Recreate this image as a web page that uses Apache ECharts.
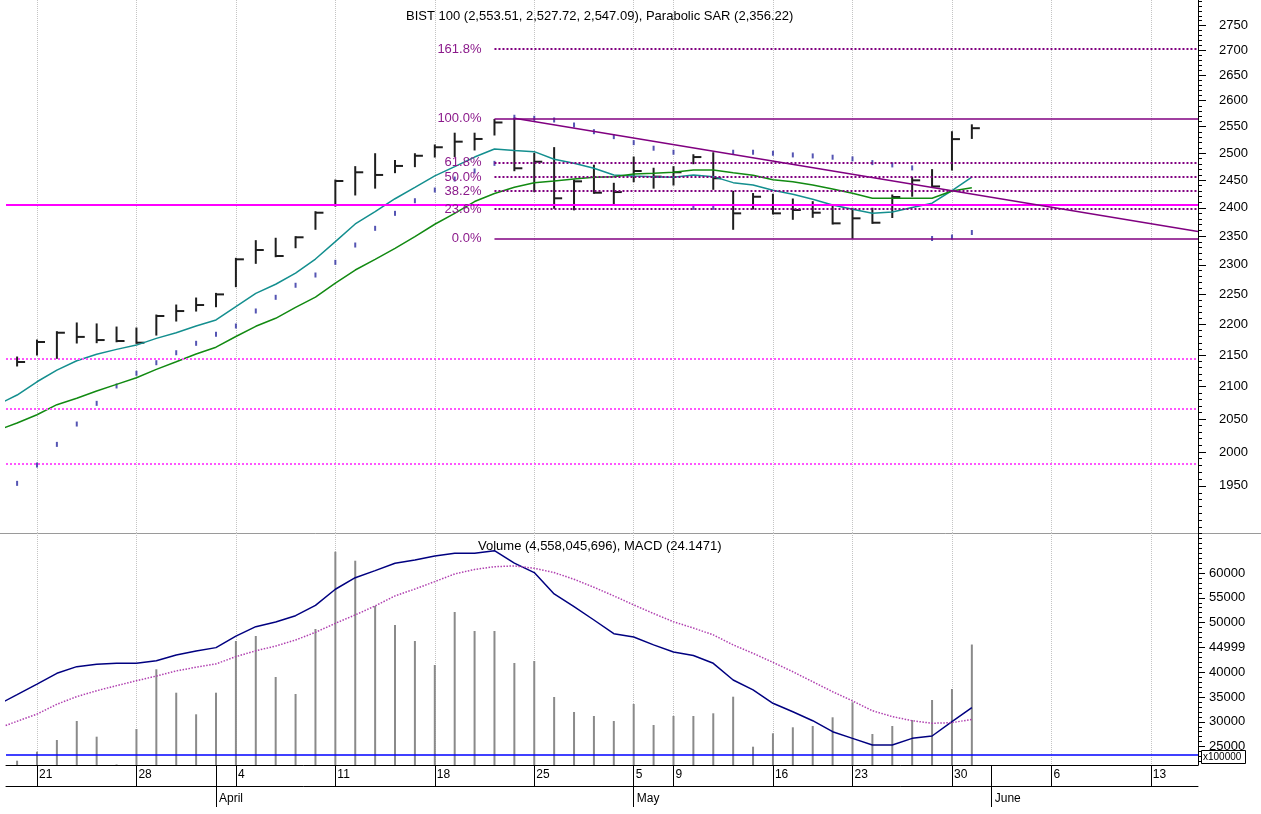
<!DOCTYPE html>
<html>
<head>
<meta charset="utf-8">
<script src="https://cdn.jsdelivr.net/npm/echarts@6.0.0/dist/echarts.min.js"></script>
<style>
  html, body { margin: 0; padding: 0; background: #fff; }
  #chart { width: 1261px; height: 814px; }
</style>
</head>
<body>
<div id="chart"></div>
<script>
// trading day index: 0 = 18 Mar 2022, -1 = 17 Mar (only the indicator lines reach it)
const weekTicks = [1, 6, 11, 16, 21, 26, 31, 33, 38, 42, 47, 52, 57];
const weekLabels = ['21', '28', '4', '11', '18', '25', '5', '9', '16', '23', '30', '6', '13'];
const monthTicks = [10, 31, 49];
const monthLabels = ['April', 'May', 'June'];

// BIST 100 daily bars, index 0..48
const high = [2147.0, 2174.4, 2188.0, 2202.3, 2200.7, 2195.6, 2194.0, 2215.4, 2232.0, 2243.7,
  2251.5, 2311.2, 2341.9, 2346.1, 2348.9, 2393.1, 2450.4, 2475.0, 2499.0, 2486.4,
  2499.0, 2515.4, 2537.6, 2537.6, 2563.7, 2566.0, 2499.7, 2510.4, 2450.4, 2477.8,
  2444.4, 2492.8, 2472.0, 2475.0, 2497.1, 2500.8, 2429.8, 2425.8, 2424.6, 2415.9,
  2411.1, 2403.2, 2399.2, 2399.2, 2423.2, 2455.5, 2469.5, 2540.4, 2553.51];
const low = [2132.7, 2150.2, 2144.9, 2169.6, 2170.1, 2171.6, 2169.1, 2182.5, 2205.5, 2222.0,
  2229.2, 2262.8, 2302.6, 2314.0, 2329.6, 2361.9, 2403.2, 2423.2, 2435.6, 2463.9,
  2475.0, 2492.8, 2493.9, 2506.0, 2534.2, 2467.5, 2429.1, 2399.2, 2396.4, 2426.2,
  2405.0, 2447.3, 2435.6, 2441.3, 2480.4, 2433.5, 2361.9, 2397.9, 2389.0, 2379.6,
  2383.1, 2371.2, 2346.1, 2372.4, 2382.8, 2420.9, 2437.1, 2468.8, 2527.72];
const close = [2139.0, 2171.2, 2186.3, 2179.5, 2174.4, 2172.8, 2170.1, 2213.8, 2222.0, 2232.0,
  2249.8, 2309.5, 2325.6, 2315.2, 2347.8, 2391.3, 2448.6, 2464.6, 2459.7, 2476.3,
  2495.2, 2511.1, 2521.6, 2526.7, 2558.0, 2472.0, 2484.1, 2417.2, 2448.0, 2427.3,
  2428.5, 2467.0, 2456.6, 2464.6, 2492.8, 2453.6, 2390.2, 2420.0, 2390.2, 2396.1,
  2391.3, 2372.4, 2381.3, 2373.5, 2419.5, 2449.8, 2438.7, 2526.4, 2547.09];
const sar = [1953.7, 1980.6, 2011.4, 2042.2, 2074.0, 2101.1, 2121.1, 2137.9, 2153.9, 2169.1,
  2183.8, 2197.3, 2222.1, 2244.9, 2265.2, 2282.6, 2304.3, 2334.3, 2363.6, 2390.2,
  2412.8, 2432.2, 2452.2, 2467.0, 2481.1, 2568.0, 2566.0, 2562.8, 2553.2, 2540.5,
  2531.1, 2519.8, 2509.3, 2501.8, 2401.0, 2401.0, 2501.8, 2501.8, 2499.9, 2496.8,
  2494.9, 2492.5, 2489.4, 2482.5, 2478.2, 2472.7, 2345.7, 2348.3, 2356.22];

// moving averages, index -1..48
const maFast = [2071.7, 2086.9, 2107.7, 2126.2, 2141.1, 2151.4, 2159.3, 2166.2, 2177.1, 2186.3,
  2197.3, 2207.2, 2229.5, 2251.5, 2266.9, 2285.8, 2310.0, 2340.2, 2371.3, 2393.1,
  2416.4, 2437.1, 2458.1, 2475.0, 2492.8, 2507.9, 2504.8, 2502.9, 2488.7, 2481.3,
  2472.0, 2459.7, 2457.9, 2456.6, 2455.5, 2459.7, 2456.6, 2445.6, 2441.3, 2431.6,
  2424.4, 2415.4, 2405.2, 2397.5, 2390.4, 2392.7, 2400.7, 2408.3, 2431.3, 2455.5];
const maSlow = [2032.7, 2043.7, 2056.4, 2071.9, 2081.8, 2093.1, 2103.6, 2114.0, 2127.3, 2139.5,
  2151.9, 2162.8, 2180.1, 2196.8, 2210.0, 2228.2, 2245.1, 2268.7, 2291.1, 2309.5,
  2328.5, 2349.0, 2370.8, 2390.2, 2411.3, 2425.8, 2437.1, 2445.6, 2448.6, 2452.2,
  2455.5, 2456.6, 2461.5, 2462.8, 2464.6, 2468.8, 2468.8, 2463.9, 2459.3, 2451.0,
  2447.3, 2441.3, 2434.0, 2426.2, 2417.2, 2417.2, 2417.2, 2417.2, 2430.4, 2436.4];

// volume (x100000), index 0..48
const volume = [22157, 23972, 26331, 30161, 27000, 21400, 28548, 40585, 35867, 31512,
  35867, 46290, 47298, 39032, 35605, 48710, 64294, 62480, 53347, 49516,
  46290, 41452, 52137, 48306, 48306, 41855, 42258, 35000, 31976, 31169,
  30161, 33589, 29355, 31169, 31169, 31714, 35060, 24980, 27681, 28891,
  29153, 30907, 33931, 27540, 29153, 30363, 34395, 36613, 45580];

// MACD and signal, index -1..48
const macd = [25.5, 30.8, 36.2, 41.7, 45.1, 46.3, 46.8, 46.8, 48.1, 51.0,
  53.1, 54.8, 60.7, 65.5, 67.9, 71.1, 76.4, 84.6, 90.5, 94.1,
  97.9, 99.5, 101.6, 103.0, 103.0, 104.3, 97.9, 93.1, 82.2, 75.7,
  68.9, 61.9, 60.2, 56.2, 52.6, 50.8, 46.8, 38.3, 33.2, 26.4,
  22.1, 17.5, 11.9, 8.5, 5.1, 5.1, 8.5, 9.7, 17.0, 24.1471];
const signal = [13.5, 17.2, 20.9, 25.9, 29.8, 32.8, 35.4, 37.9, 40.3, 42.9,
  44.8, 46.5, 50.2, 53.2, 55.6, 58.7, 62.6, 67.2, 71.5, 76.1,
  81.2, 84.7, 88.5, 92.4, 94.7, 96.1, 96.5, 95.3, 93.1, 89.7,
  85.6, 81.2, 76.6, 72.2, 68.0, 64.8, 61.3, 56.2, 51.9, 47.3,
  42.5, 37.4, 32.3, 27.6, 22.6, 19.6, 17.5, 16.2, 16.5, 18.2];

// drawn studies
const solidLevel = 2405;
const dottedLevels = [2145, 2065, 1982];
const fibRatios = [0, 0.236, 0.382, 0.5, 0.618, 1, 1.618];
const fibFrom = 24, fibHighIdx = 25, fibLowIdx = 42;
const trendLine = [[25, 2566], [59.37, 2358]];

const priceTicks = [1950, 2000, 2050, 2100, 2150, 2200, 2250, 2300, 2350, 2400,
  2450, 2500, 2550, 2600, 2650, 2700, 2750];
const volTicks = [25000, 30000, 35000, 40000, 44999, 50000, 55000, 60000];

const xMin = -0.558, xMax = 59.37;
const plotW = 1192;
const FONT = 'Liberation Sans, Arial, sans-serif';

const priceMinor = [];
for (let v = 1890; v <= 2800; v += 10) priceMinor.push(v);
const volMinor = [];
for (let v = 22000; v <= 68000; v += 1000) volMinor.push(v);

const fibHi = high[fibHighIdx], fibLo = low[fibLowIdx];
const fibLines = fibRatios.map(r => {
  const lv = fibLo + r * (fibHi - fibLo);
  const solid = r === 0 || r === 1;
  return [
    { coord: [fibFrom, lv], name: (r * 100).toFixed(1) + '%',
      lineStyle: { type: solid ? 'solid' : 'dotted', width: solid ? 1.5 : 2 } },
    { coord: [xMax, lv] }
  ];
});

const fromIdx = (arr, start) => arr.map((v, i) => [i + start, v]);

const xBase = {
  type: 'value', min: xMin, max: xMax,
  axisLine: { show: false }, axisLabel: { show: false },
  axisTick: { show: false, customValues: weekTicks },
  splitLine: { show: true, lineStyle: { color: '#c4c4c4', type: 'dotted', width: 1 } }
};

// minor tick axis: sits on the left slot but is shifted onto the right edge
const minorAxis = (grid, type, min, max, ticks) => ({
  type: type, gridIndex: grid, position: 'left', offset: -plotW, min: min, max: max,
  axisLine: { show: false, onZero: false },
  axisTick: { show: true, inside: true, length: 4, customValues: ticks, lineStyle: { color: '#000' } },
  axisLabel: { show: false }, splitLine: { show: false }
});

const chart = echarts.init(document.getElementById('chart'));
chart.setOption({
  animation: false,
  backgroundColor: '#fff',
  title: [
    { text: 'BIST 100 (2,553.51, 2,527.72, 2,547.09), Parabolic SAR (2,356.22)',
      left: 406, top: 10, padding: 0,
      textStyle: { fontSize: 13, fontWeight: 'normal', color: '#000', fontFamily: FONT } },
    { text: 'Volume (4,558,045,696), MACD (24.1471)',
      left: 478, top: 540, padding: 0,
      textStyle: { fontSize: 13, fontWeight: 'normal', color: '#000', fontFamily: FONT } }
  ],
  grid: [
    { left: 6, right: 63, top: 0, height: 533, containLabel: false, outerBoundsMode: 'none' },
    { left: 6, right: 63, top: 533, height: 232, containLabel: false, outerBoundsMode: 'none' }
  ],
  xAxis: [
    Object.assign({ gridIndex: 0 }, xBase),
    Object.assign({ gridIndex: 1 }, xBase),
    {
      type: 'value', gridIndex: 1, min: xMin, max: xMax, position: 'bottom',
      axisLine: { show: true, onZero: false, lineStyle: { color: '#000', width: 1 } },
      axisTick: { show: true, length: 21, customValues: weekTicks.concat(monthTicks),
        lineStyle: { color: '#000' } },
      axisLabel: { customValues: weekTicks, align: 'left', margin: 4, padding: [0, 0, 0, 2],
        color: '#000', fontSize: 12, fontFamily: FONT,
        formatter: v => weekLabels[weekTicks.indexOf(Math.round(v))] },
      splitLine: { show: false }
    },
    {
      type: 'value', gridIndex: 1, min: xMin, max: xMax, position: 'bottom', offset: 21,
      axisLine: { show: true, onZero: false, lineStyle: { color: '#000', width: 1 } },
      axisTick: { show: true, length: 21, customValues: monthTicks, lineStyle: { color: '#000' } },
      axisLabel: { customValues: monthTicks, align: 'left', margin: 7, padding: [0, 0, 0, 3],
        color: '#000', fontSize: 12, fontFamily: FONT,
        formatter: v => monthLabels[monthTicks.indexOf(Math.round(v))] },
      splitLine: { show: false }
    }
  ],
  yAxis: [
    {
      type: 'log', gridIndex: 0, position: 'right', min: 1882.6, max: 2803,
      axisLine: { show: true, onZero: false, lineStyle: { color: '#000' } },
      axisTick: { show: true, length: 8, customValues: priceTicks, lineStyle: { color: '#000' } },
      axisLabel: { customValues: priceTicks, margin: 21, color: '#000', fontSize: 13, fontFamily: FONT,
        formatter: v => String(Math.round(v)) },
      splitLine: { show: false }
    },
    minorAxis(0, 'log', 1882.6, 2803, priceMinor),
    {
      type: 'value', gridIndex: 1, position: 'right', min: 21290, max: 68065,
      axisLine: { show: true, onZero: false, lineStyle: { color: '#000' } },
      axisTick: { show: true, length: 7, customValues: volTicks, lineStyle: { color: '#000' } },
      axisLabel: { customValues: volTicks, margin: 11, color: '#000', fontSize: 13, fontFamily: FONT,
        formatter: v => String(v) },
      splitLine: { show: false }
    },
    minorAxis(1, 'value', 21290, 68065, volMinor),
    {
      type: 'value', gridIndex: 1, min: -5.1, max: 113.3, show: false
    }
  ],
  series: [
    {
      name: 'levels', type: 'line', xAxisIndex: 0, yAxisIndex: 0, data: [], silent: true,
      markLine: {
        silent: true, symbol: 'none', animation: false,
        label: { show: false },
        data: [
          { yAxis: solidLevel, lineStyle: { color: '#ff00ff', width: 2, type: 'solid' } }
        ].concat(dottedLevels.map(v => ({ yAxis: v, lineStyle: { color: '#ff55ff', width: 2, type: 'dotted' } })))
      }
    },
    {
      name: 'fib', type: 'line', xAxisIndex: 0, yAxisIndex: 0, data: [], silent: true,
      markLine: {
        silent: true, symbol: 'none', animation: false,
        lineStyle: { color: '#800080' },
        label: { show: true, position: 'start', distance: 13, formatter: '{b}',
          color: '#8b1a8b', fontSize: 13, fontFamily: FONT },
        data: fibLines
      }
    },
    {
      name: 'trend', type: 'line', xAxisIndex: 0, yAxisIndex: 0, data: [], silent: true,
      markLine: {
        silent: true, symbol: 'none', animation: false,
        label: { show: false },
        lineStyle: { color: '#800080', width: 1.5, type: 'solid' },
        data: [[{ coord: trendLine[0] }, { coord: trendLine[1] }]]
      }
    },
    {
      name: 'MA fast', type: 'line', xAxisIndex: 0, yAxisIndex: 0,
      data: fromIdx(maFast, -1), showSymbol: false, clip: true,
      lineStyle: { color: '#148f8f', width: 1.5 }
    },
    {
      name: 'MA slow', type: 'line', xAxisIndex: 0, yAxisIndex: 0,
      data: fromIdx(maSlow, -1), showSymbol: false, clip: true,
      lineStyle: { color: '#128a12', width: 1.5 }
    },
    {
      name: 'SAR', type: 'scatter', xAxisIndex: 0, yAxisIndex: 0,
      data: fromIdx(sar, 0), symbol: 'rect', symbolSize: [2, 5],
      itemStyle: { color: '#2a2aa0' }
    },
    {
      name: 'BIST 100', type: 'custom', xAxisIndex: 0, yAxisIndex: 0,
      data: high.map((h, i) => [i, h, low[i], close[i]]),
      encode: { x: 0, y: [1, 2, 3] },
      renderItem: (params, api) => {
        const x = api.value(0);
        const h = api.coord([x, api.value(1)]);
        const l = api.coord([x, api.value(2)]);
        const c = api.coord([x, api.value(3)]);
        const st = { stroke: '#1e1e1e', lineWidth: 2 };
        return {
          type: 'group',
          children: [
            { type: 'line', shape: { x1: h[0], y1: h[1] - 0.5, x2: l[0], y2: l[1] + 0.5 }, style: st },
            { type: 'line', shape: { x1: c[0], y1: c[1], x2: c[0] + 8, y2: c[1] }, style: st }
          ]
        };
      }
    },
    {
      name: 'Volume', type: 'bar', xAxisIndex: 2, yAxisIndex: 2,
      data: fromIdx(volume, 0), barWidth: 2,
      itemStyle: { color: '#8a8a8a' }
    },
    {
      name: 'MACD', type: 'line', xAxisIndex: 2, yAxisIndex: 4,
      data: fromIdx(macd, -1), showSymbol: false, clip: true,
      lineStyle: { color: '#000080', width: 1.5 },
      markLine: {
        silent: true, symbol: 'none', animation: false, label: { show: false },
        lineStyle: { color: '#0000ff', width: 1.5, type: 'solid' },
        data: [{ yAxis: 0 }]
      }
    },
    {
      name: 'Signal', type: 'line', xAxisIndex: 2, yAxisIndex: 4,
      data: fromIdx(signal, -1), showSymbol: false, clip: true,
      lineStyle: { color: '#b040b0', width: 1.5, type: 'dotted' }
    }
  ],
  graphic: [
    { type: 'line', silent: true, shape: { x1: 0, y1: 533.5, x2: 1261, y2: 533.5 },
      style: { stroke: '#9a9a9a', lineWidth: 1 } },
    { type: 'rect', silent: true, z: 100, shape: { x: 1201.5, y: 750.5, width: 44, height: 13 },
      style: { fill: '#fff', stroke: '#000', lineWidth: 1 } },
    { type: 'text', silent: true, z: 101, x: 1203, y: 757,
      style: { text: 'x100000', fontSize: 10, fontFamily: FONT, fill: '#000', verticalAlign: 'middle' } }
  ]
});
</script>
</body>
</html>
